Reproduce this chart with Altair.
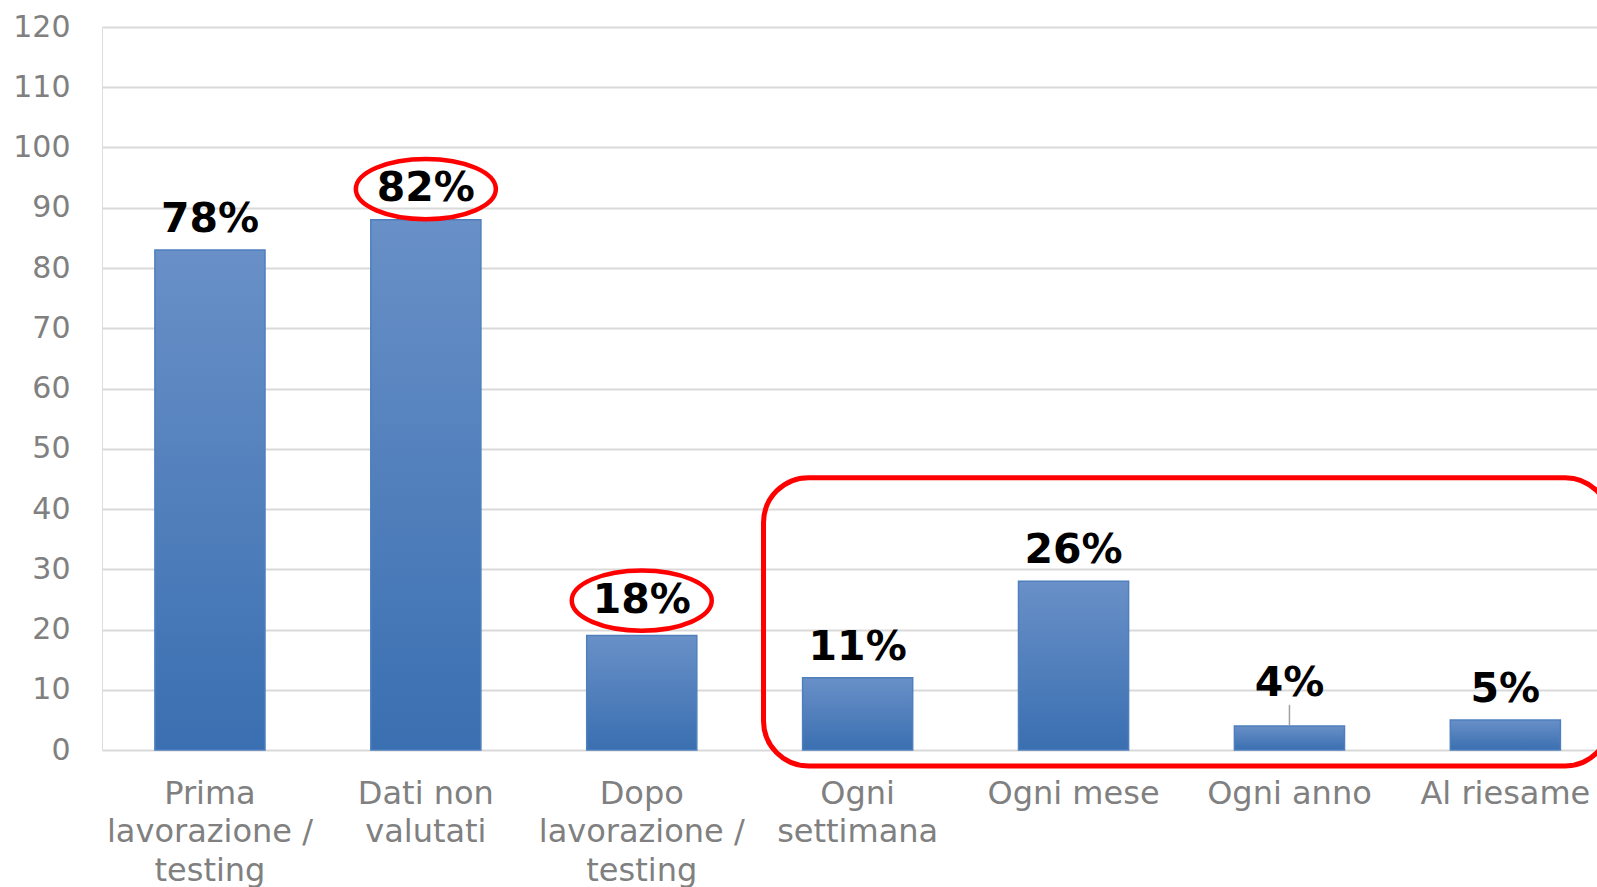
import altair as alt
import pandas as pd

categories = ["Prima\nlavorazione /\ntesting", "Dati non\nvalutati", "Dopo\nlavorazione /\ntesting",
              "Ogni\nsettimana", "Ogni mese", "Ogni anno", "Al riesame"]
values = [83, 88, 19, 12, 28, 4, 5]
labels = ["78%", "82%", "18%", "11%", "26%", "4%", "5%"]
label_y = [88.0, 93.1, 24.8, 17.0, 33.0, 11.0, 9.9]
circled = [False, True, True, False, False, False, False]

df = pd.DataFrame({"cat": categories, "value": values, "label": labels,
                   "label_y": label_y, "circled": circled})

# highlight box, in category-index units (0..7) and value units
box_df = pd.DataFrame({"x0": [3.064], "x1": [6.985], "top": [45.2], "bottom": [-2.65]})
leader_df = pd.DataFrame({"cat": ["Ogni anno"], "y0": [4], "y1": [7.5]})

FONT = "DejaVu Sans"
GREY = "#808080"
PLOT_RANGE = [0, 1511.3]

xscale = alt.Scale(domain=categories, range=PLOT_RANGE, paddingInner=0.49, paddingOuter=0.245)
yscale = alt.Scale(domain=[0, 120], nice=False)

x_axis = alt.Axis(title=None, labelExpr="split(datum.value, '\\n')", labelFont=FONT, labelFontSize=32,
                  labelColor=GREY, labelLineHeight=38.7, labelPadding=28, ticks=False, tickSize=0,
                  domain=False, grid=False, labelAngle=0, labelBaseline="top", labelLimit=0)
y_axis = alt.Axis(title=None, values=list(range(0, 121, 10)), labelFont=FONT, labelFontSize=30,
                  labelColor=GREY, labelPadding=32, ticks=False, tickSize=0, domain=False,
                  grid=True, gridColor="#d9d9d9", gridWidth=2)

gradient = alt.Gradient(gradient="linear", x1=0, x2=0, y1=0, y2=1,
                        stops=[alt.GradientStop(color="#6990c7", offset=0),
                               alt.GradientStop(color="#3a6fb1", offset=1)])

bars = alt.Chart(df).mark_bar(color=gradient, stroke="#4f7fbd", strokeWidth=1.5).encode(
    x=alt.X("cat:N", scale=xscale, axis=x_axis, sort=categories),
    y=alt.Y("value:Q", scale=yscale, axis=y_axis),
)

text = alt.Chart(df).mark_text(font=FONT, fontSize=41, fontWeight="bold", color="black",
                               baseline="middle", align="center").encode(
    x=alt.X("cat:N", sort=categories),
    y=alt.Y("label_y:Q"),
    text=alt.Text("label:N"),
)

ellipse_path = ("M -1 0 C -1 -0.2375 -0.5523 -0.43 0 -0.43 C 0.5523 -0.43 1 -0.2375 1 0 "
                "C 1 0.2375 0.5523 0.43 0 0.43 C -0.5523 0.43 -1 0.2375 -1 0 Z")
ellipses = alt.Chart(df).transform_filter("datum.circled").mark_point(
    shape=ellipse_path, size=19600, filled=False, stroke="#ff0000", strokeWidth=4.5, opacity=1
).encode(
    x=alt.X("cat:N", sort=categories),
    y=alt.Y("label_y:Q"),
)

leader = alt.Chart(leader_df).mark_rule(color="#a0a0a0", strokeWidth=1.5).encode(
    x=alt.X("cat:N", sort=categories),
    y=alt.Y("y0:Q"),
    y2="y1:Q",
)

main = alt.layer(bars, leader, text, ellipses)

box = alt.Chart(box_df).mark_rect(cornerRadius=45, fillOpacity=0, stroke="#ff0000", strokeWidth=5).encode(
    x=alt.X("x0:Q", scale=alt.Scale(domain=[0, 7], range=PLOT_RANGE, nice=False, zero=False), axis=None),
    x2="x1:Q",
    y=alt.Y("top:Q", scale=yscale),
    y2="bottom:Q",
)

chart = alt.layer(main, box).resolve_scale(x="independent").properties(
    width=1495, height=723,
    padding={"left": 102, "top": 27, "right": 0, "bottom": 137},
    autosize=alt.AutoSizeParams(type="none"),
).configure_view(stroke=None).configure(background="white")

chart.save("out.html", embed_options={"renderer": "svg", "actions": False})
